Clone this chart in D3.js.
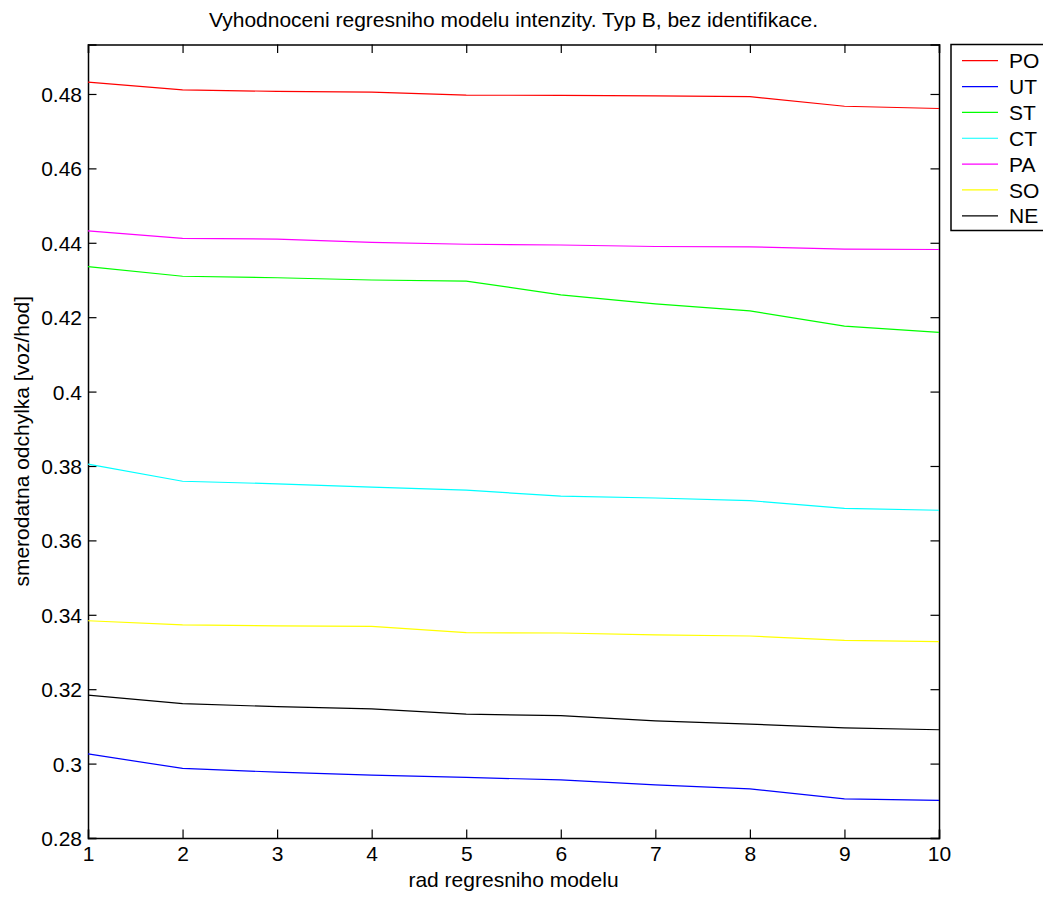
<!DOCTYPE html>
<html>
<head>
<meta charset="utf-8">
<script src="https://cdn.jsdelivr.net/npm/d3@7"></script>
<style>
	body { margin: 0; background: #fff; }
	svg text { font-family: "Liberation Sans", Arial, Helvetica, sans-serif; fill: #000; }
</style>
</head>
<body>
<div id="chart"></div>
<script>
// rad regresniho modelu
let orders	= [1, 2, 3, 4, 5, 6, 7, 8, 9, 10];

// smerodatna odchylka per den
let po	= [0.4832, 0.4811, 0.4807, 0.4805, 0.4797, 0.4796, 0.4795, 0.4793, 0.4767, 0.4761];
let ut	= [0.3026, 0.2987, 0.2977, 0.2969, 0.2963, 0.2956, 0.2943, 0.2932, 0.2905, 0.2901];
let st	= [0.4336, 0.4310, 0.4306, 0.4300, 0.4297, 0.4260, 0.4236, 0.4217, 0.4176, 0.4159];
let ct	= [0.3805, 0.3759, 0.3752, 0.3743, 0.3735, 0.3719, 0.3714, 0.3707, 0.3686, 0.3681];
let pa	= [0.4432, 0.4412, 0.4410, 0.4401, 0.4396, 0.4394, 0.4390, 0.4389, 0.4383, 0.4382];
let so	= [0.3384, 0.3373, 0.3370, 0.3369, 0.3352, 0.3351, 0.3346, 0.3343, 0.3331, 0.3328];
let ne	= [0.3184, 0.3161, 0.3153, 0.3147, 0.3133, 0.3129, 0.3115, 0.3106, 0.3096, 0.3091];

let seriesNames		= ["PO", "UT", "ST", "CT", "PA", "SO", "NE"];
let seriesValues	= [po, ut, st, ct, pa, so, ne];
let seriesColors	= ["#ff0000", "#0000ff", "#00ff00", "#00ffff", "#ff00ff", "#ffff00", "#000000"];

let yTicks	= [0.28, 0.3, 0.32, 0.34, 0.36, 0.38, 0.4, 0.42, 0.44, 0.46, 0.48];
let yDomain	= [0.28, 0.4933];

let width	= 1043,
	height	= 897,
	margin	= { top: 44.5, right: 104, bottom: 59, left: 88 },
	fontSize = 21;

let svg = d3.select("#chart").append("svg")
	.attr("width", width)
	.attr("height", height);

let x = d3.scaleLinear()
	.domain([1, 10])
	.range([margin.left, width - margin.right]);

let y = d3.scaleLinear()
	.domain(yDomain)
	.range([height - margin.bottom, margin.top]);

let fmt = (v) => String(+v.toFixed(2));

// axes with inward ticks on all four sides (matlab box)
let tickLen = 8.5;

svg.append("g")
	.attr("transform", "translate(0," + y.range()[0] + ")")
	.call(d3.axisBottom(x).tickValues(orders).tickSize(-tickLen).tickPadding(8).tickFormat(d3.format("d")))
	.call((g) => g.selectAll("text").attr("font-size", fontSize).attr("dy", "0.72em"));

svg.append("g")
	.attr("transform", "translate(0," + y.range()[1] + ")")
	.call(d3.axisTop(x).tickValues(orders).tickSize(-tickLen).tickFormat(""));

svg.append("g")
	.attr("transform", "translate(" + x.range()[0] + ",0)")
	.call(d3.axisLeft(y).tickValues(yTicks).tickSize(-tickLen).tickPadding(6).tickFormat(fmt))
	.call((g) => g.selectAll("text").attr("font-size", fontSize).attr("dy", "0.36em"));

svg.append("g")
	.attr("transform", "translate(" + x.range()[1] + ",0)")
	.call(d3.axisRight(y).tickValues(yTicks).tickSize(-tickLen).tickFormat(""));

svg.selectAll(".domain").attr("stroke", "#000").attr("stroke-width", 1.5);
svg.selectAll(".tick line").attr("stroke", "#000").attr("stroke-width", 1.2);

// lines
let line = d3.line()
	.x((d, i) => x(orders[i]))
	.y((d) => y(d));

svg.append("g")
	.selectAll("path")
	.data(seriesValues)
	.enter().append("path")
	.attr("d", line)
	.attr("fill", "none")
	.attr("stroke", (d, i) => seriesColors[i])
	.attr("stroke-width", 1.2);

// labels
svg.append("text")
	.attr("x", (x.range()[0] + x.range()[1]) / 2)
	.attr("y", 27)
	.attr("text-anchor", "middle")
	.attr("font-size", fontSize)
	.text("Vyhodnoceni regresniho modelu intenzity. Typ B, bez identifikace.");

svg.append("text")
	.attr("x", (x.range()[0] + x.range()[1]) / 2)
	.attr("y", 887)
	.attr("text-anchor", "middle")
	.attr("font-size", fontSize)
	.text("rad regresniho modelu");

svg.append("text")
	.attr("transform", "translate(29," + ((y.range()[0] + y.range()[1]) / 2) + ") rotate(-90)")
	.attr("text-anchor", "middle")
	.attr("font-size", fontSize)
	.text("smerodatna odchylka [voz/hod]");

// legend
let legend = svg.append("g").attr("transform", "translate(951,44.5)");

legend.append("rect")
	.attr("width", 96)
	.attr("height", 186)
	.attr("fill", "#fff")
	.attr("stroke", "#000")
	.attr("stroke-width", 1.5);

let item = legend.selectAll(".item")
	.data(seriesNames)
	.enter().append("g")
	.attr("class", "item")
	.attr("transform", (d, i) => "translate(0," + (16.2 + i * 25.85) + ")");

item.append("line")
	.attr("x1", 11)
	.attr("x2", 47)
	.attr("stroke", (d, i) => seriesColors[i])
	.attr("stroke-width", 1.2);

item.append("text")
	.attr("x", 58)
	.attr("dy", "0.36em")
	.attr("font-size", fontSize)
	.text((d) => d);
</script>
</body>
</html>
